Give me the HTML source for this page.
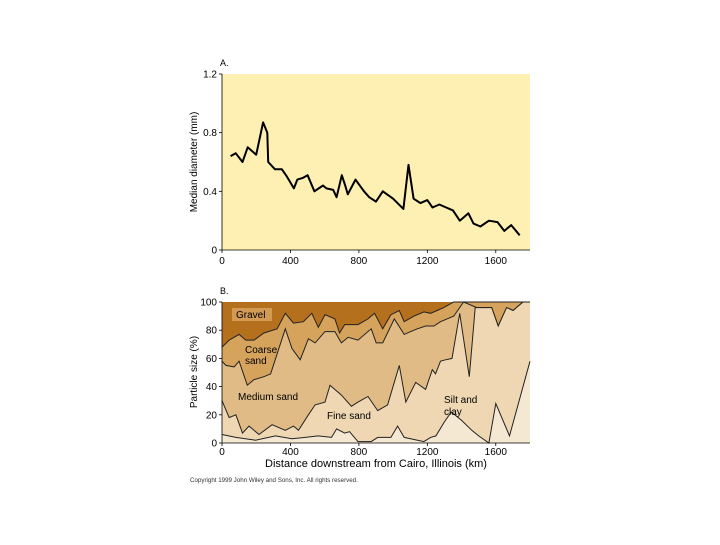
<!DOCTYPE html>
<html><head><meta charset="utf-8"><style>
body{margin:0;background:#fff;}
svg text{font-family:"Liberation Sans",sans-serif;}
</style></head><body>
<svg id="chart" width="720" height="540" xmlns="http://www.w3.org/2000/svg">
<g id="pa"></g>
<g id="pb"></g>
<text x="190" y="482" font-size="6.2" fill="#333">Copyright 1999 John Wiley and Sons, Inc. All rights reserved.</text>
</svg>
<script>
// Panel A data
const aKm=[50,80,120,150,200,240,265,270,310,350,380,420,440,470,500,540,590,610,650,670,700,720,735,780,830,860,900,940,1000,1060,1090,1120,1160,1200,1230,1270,1310,1350,1390,1440,1470,1510,1560,1610,1650,1690,1740];
const aVal=[0.64,0.66,0.60,0.70,0.65,0.87,0.80,0.60,0.55,0.55,0.50,0.42,0.48,0.49,0.51,0.40,0.44,0.42,0.41,0.36,0.51,0.44,0.38,0.48,0.40,0.36,0.33,0.40,0.35,0.28,0.58,0.35,0.32,0.34,0.29,0.31,0.29,0.27,0.20,0.25,0.18,0.16,0.20,0.19,0.13,0.17,0.10];
const aYTicks=[0,0.4,0.8,1.2];
const xTicks=[0,400,800,1200,1600];
// Panel B data (cumulative % boundaries)
const gravelKm=[0,42,100,139,187,245,322,370,418,476,525,563,602,660,687,717,795,853,891,939,987,1036,1065,1122,1180,1219,1257,1296,1354,1800];
const gravelTop=[68,73,77,73,73,78,81,92,85,86,92,82,91,88,78,84,84,88,92,81,91,94,86,90,93,92,94,96,100,100];
const mediumKm=[0,23,71,100,148,187,245,284,370,409,457,505,544,602,660,698,737,795,872,901,939,1007,1065,1103,1142,1190,1238,1277,1315,1354,1412,1489,1576,1614,1663,1701,1759,1800];
const mediumTop=[58,55,54,58,41,45,47,49,81,67,59,74,71,79,79,71,75,73,81,71,71,88,77,79,81,83,83,86,88,90,100,96,96,83,96,94,100,100];
const fineKm=[0,42,81,120,158,216,293,370,418,447,505,544,602,631,698,756,795,853,910,968,1036,1074,1132,1190,1229,1248,1277,1306,1344,1389,1445,1480,1576,1614,1663,1701,1759,1800];
const fineTop=[30,18,20,7,12,6,13,9,12,9,20,27,29,41,34,26,29,33,23,27,55,29,43,38,52,49,58,59,60,92,47,96,96,83,96,94,100,100];
const siltKm=[0,81,196,312,409,486,563,640,670,717,746,766,795,872,910,987,1026,1065,1180,1219,1250,1300,1340,1400,1460,1500,1560,1600,1680,1800];
const siltTop=[6,4,2,5,3,4,5,4,10,7,8,5,1,1,4,4,12,4,1,4,5,15,22,16,9,5,0,28,5,58];
const bYTicks=[0,20,40,60,80,100];

const NS='http://www.w3.org/2000/svg';
function mk(parent,tag,attrs,name,text){const e=document.createElementNS(NS,tag);for(const k in attrs)e.setAttribute(k,attrs[k]);


if(text!==undefined)e.textContent=text;parent.appendChild(e);return e;}
const X0=222,X1=530;
const xs=k=>X0+k/1800*(X1-X0);
// Panel A
const pa=document.getElementById('pa');
const AT=74,AB=250;
const ya=v=>AB-v/1.2*(AB-AT);
mk(pa,'rect',{x:X0,y:AT,width:X1-X0,height:AB-AT,fill:'#fdf0b2'},'panel-a-plot-area');
mk(pa,'line',{x1:X0,y1:AT,x2:X0,y2:AB,stroke:'#000','stroke-width':0.8},'panel-a-y-axis');
mk(pa,'line',{x1:X0,y1:AB,x2:X1,y2:AB,stroke:'#000','stroke-width':0.8},'panel-a-x-axis');
aYTicks.forEach(t=>{mk(pa,'line',{x1:X0-3,y1:ya(t),x2:X0,y2:ya(t),stroke:'#000','stroke-width':0.8},'panel-a-y-tick');
mk(pa,'text',{x:X0-5,y:ya(t)+3.5,'font-size':10,'text-anchor':'end'},'panel-a-y-tick-label',String(t));});
xTicks.forEach(t=>{mk(pa,'line',{x1:xs(t),y1:AB,x2:xs(t),y2:AB+3,stroke:'#000','stroke-width':0.8},'panel-a-x-tick');
mk(pa,'text',{x:xs(t),y:AB+14,'font-size':10,'text-anchor':'middle'},'panel-a-x-tick-label',String(t));});
mk(pa,'path',{d:aKm.map((k,i)=>(i?'L':'M')+xs(k).toFixed(1)+' '+ya(aVal[i]).toFixed(1)).join(' '),fill:'none',stroke:'#000','stroke-width':2,'stroke-linejoin':'round'},'median-diameter-line');
mk(pa,'text',{x:220,y:66,'font-size':9},'panel-a-label','A.');
mk(pa,'text',{x:0,y:0,'font-size':10,'text-anchor':'middle',transform:'translate(197,162) rotate(-90)'},'panel-a-y-axis-title','Median diameter (mm)');
// Panel B
const pb=document.getElementById('pb');
const BT=302,BB=443;
const yb=v=>BB-v/100*(BB-BT);
function area(km,top,fill,name){
 let d='M'+xs(km[0]).toFixed(1)+' '+BB+' '+km.map((k,i)=>'L'+xs(k).toFixed(1)+' '+yb(top[i]).toFixed(1)).join(' ')+' L'+xs(km[km.length-1]).toFixed(1)+' '+BB+'Z';
 mk(pb,'path',{d:d,fill:fill},name+'-area');
 mk(pb,'path',{d:km.map((k,i)=>(i?'L':'M')+xs(k).toFixed(1)+' '+yb(top[i]).toFixed(1)).join(' '),fill:'none',stroke:'#222','stroke-width':1},name+'-boundary');
}
mk(pb,'rect',{x:X0,y:BT,width:X1-X0,height:BB-BT,fill:'#b5701d'},'gravel-area');
area(gravelKm,gravelTop,'#d6a35c','coarse-sand');
area(mediumKm,mediumTop,'#e0bb86','medium-sand');
area(fineKm,fineTop,'#eed7b2','fine-sand');
area(siltKm,siltTop,'#f5e8d3','silt-clay');
mk(pb,'line',{x1:X0,y1:BT,x2:X0,y2:BB,stroke:'#000','stroke-width':0.8},'panel-b-y-axis');
mk(pb,'line',{x1:X0,y1:BB,x2:X1,y2:BB,stroke:'#000','stroke-width':0.8},'panel-b-x-axis');
bYTicks.forEach(t=>{mk(pb,'line',{x1:X0-3,y1:yb(t),x2:X0,y2:yb(t),stroke:'#000','stroke-width':0.8},'panel-b-y-tick');
mk(pb,'text',{x:X0-5,y:yb(t)+3.5,'font-size':10,'text-anchor':'end'},'panel-b-y-tick-label',String(t));});
xTicks.forEach(t=>{mk(pb,'line',{x1:xs(t),y1:BB,x2:xs(t),y2:BB+3,stroke:'#000','stroke-width':0.8},'panel-b-x-tick');
mk(pb,'text',{x:xs(t),y:BB+12,'font-size':10,'text-anchor':'middle'},'panel-b-x-tick-label',String(t));});
mk(pb,'text',{x:220,y:294,'font-size':9},'panel-b-label','B.');
mk(pb,'text',{x:0,y:0,'font-size':10,'text-anchor':'middle',transform:'translate(197,372) rotate(-90)'},'panel-b-y-axis-title','Particle size (%)');
mk(pb,'text',{x:376,y:467,'font-size':11,'text-anchor':'middle'},'panel-b-x-axis-title','Distance downstream from Cairo, Illinois (km)');
mk(pb,'rect',{x:232,y:308,width:40,height:13,fill:'#d29a52'},'gravel-label-bg');
mk(pb,'text',{x:236,y:318,'font-size':10},'gravel-label','Gravel');
mk(pb,'text',{x:245,y:353,'font-size':10},'coarse-sand-label','Coarse');
mk(pb,'text',{x:245,y:364,'font-size':10},'coarse-sand-label-2','sand');
mk(pb,'text',{x:238,y:400,'font-size':10},'medium-sand-label','Medium sand');
mk(pb,'text',{x:327,y:419,'font-size':10},'fine-sand-label','Fine sand');
mk(pb,'text',{x:444,y:403,'font-size':10},'silt-clay-label','Silt and');
mk(pb,'text',{x:444,y:415,'font-size':10},'silt-clay-label-2','clay');
</script>
</body></html>
